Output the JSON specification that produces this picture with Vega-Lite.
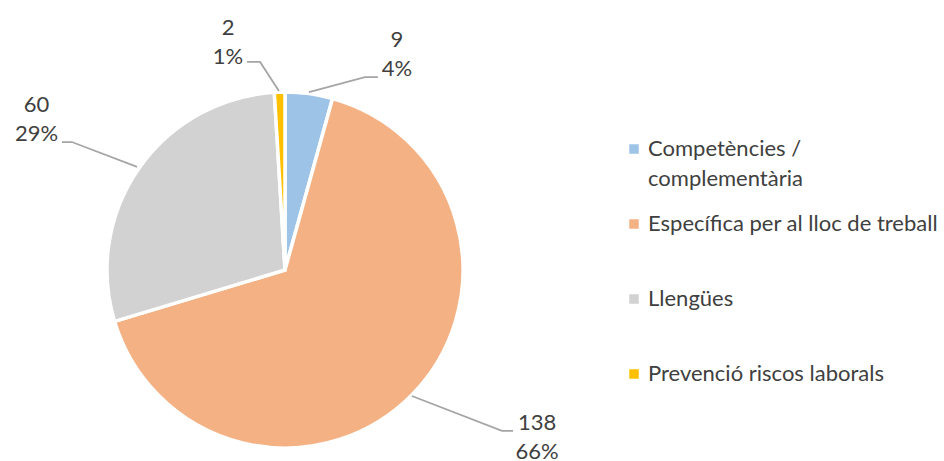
{
  "$schema": "https://vega.github.io/schema/vega-lite/v6.json",
  "width": 944,
  "height": 461,
  "padding": 0,
  "autosize": {"type": "none"},
  "background": "white",
  "config": {"view": {"stroke": null}, "font": "Lato", "style": {"guide-label": {"lineHeight": 30}}},
  "datasets": {
    "slices": [
      {"category": "Competències / complementària", "value": 9, "order": 1},
      {"category": "Específica per al lloc de treball", "value": 138, "order": 2},
      {"category": "Llengües", "value": 60, "order": 3},
      {"category": "Prevenció riscos laborals", "value": 2, "order": 4}
    ],
    "labels": [
      {"category": "Competències / complementària", "value": "9", "pct": "4%", "u": 0.629, "v": 1.208},
      {"category": "Específica per al lloc de treball", "value": "138", "pct": "66%", "u": 1.416, "v": -0.94},
      {"category": "Llengües", "value": "60", "pct": "29%", "u": -1.396, "v": 0.843},
      {"category": "Prevenció riscos laborals", "value": "2", "pct": "1%", "u": -0.32, "v": 1.278}
    ],
    "leaders": [
      {"category": "Competències / complementària", "seq": 1, "u": 0.135, "v": 1.0},
      {"category": "Competències / complementària", "seq": 2, "u": 0.449, "v": 1.084},
      {"category": "Competències / complementària", "seq": 3, "u": 0.522, "v": 1.084},
      {"category": "Prevenció riscos laborals", "seq": 1, "u": -0.213, "v": 1.169},
      {"category": "Prevenció riscos laborals", "seq": 2, "u": -0.14, "v": 1.169},
      {"category": "Prevenció riscos laborals", "seq": 3, "u": -0.034, "v": 1.006},
      {"category": "Llengües", "seq": 1, "u": -1.253, "v": 0.719},
      {"category": "Llengües", "seq": 2, "u": -1.197, "v": 0.719},
      {"category": "Llengües", "seq": 3, "u": -0.831, "v": 0.579},
      {"category": "Específica per al lloc de treball", "seq": 1, "u": 0.713, "v": -0.708},
      {"category": "Específica per al lloc de treball", "seq": 2, "u": 1.219, "v": -0.904},
      {"category": "Específica per al lloc de treball", "seq": 3, "u": 1.281, "v": -0.904}
    ]
  },
  "layer": [
    {
      "data": {"name": "slices"},
      "mark": {"type": "arc", "outerRadius": 178, "stroke": "white", "strokeWidth": 3.5},
      "encoding": {
        "theta": {"field": "value", "type": "quantitative", "stack": true},
        "order": {"field": "order", "type": "quantitative"},
        "x": {"datum": 0, "type": "quantitative", "scale": {"domain": [-1.6011, 3.7022], "nice": false, "zero": false}, "axis": null},
        "y": {"datum": 0, "type": "quantitative", "scale": {"domain": [-1.073, 1.5169], "nice": false, "zero": false}, "axis": null},
        "color": {
          "field": "category",
          "type": "nominal",
          "scale": {
            "domain": ["Competències / complementària", "Específica per al lloc de treball", "Llengües", "Prevenció riscos laborals"],
            "range": ["#9DC3E6", "#F4B183", "#D2D2D2", "#FFC000"]
          },
          "legend": {
            "orient": "none",
            "legendX": 623,
            "legendY": 138,
            "title": null,
            "symbolType": "square",
            "symbolSize": 90,
            "symbolStrokeWidth": 0,
            "labelFont": "Lato",
            "labelFontSize": 22,
            "labelColor": "#404040",
            "labelOffset": 3,
            "labelLimit": 400,
            "rowPadding": 23,
            "labelExpr": "datum.label == 'Competències / complementària' ? ['Competències /', 'complementària'] : [datum.label, ' ']"
          }
        }
      }
    },
    {
      "data": {"name": "leaders"},
      "mark": {"type": "line", "color": "#A5A5A5", "strokeWidth": 1.8},
      "encoding": {
        "x": {"field": "u", "type": "quantitative"},
        "y": {"field": "v", "type": "quantitative"},
        "detail": {"field": "category"},
        "order": {"field": "seq", "type": "quantitative"}
      }
    },
    {
      "data": {"name": "labels"},
      "mark": {"type": "text", "fontSize": 22, "color": "#404040", "dy": -14.5, "baseline": "middle", "align": "center"},
      "encoding": {
        "x": {"field": "u", "type": "quantitative"},
        "y": {"field": "v", "type": "quantitative"},
        "text": {"field": "value"}
      }
    },
    {
      "data": {"name": "labels"},
      "mark": {"type": "text", "fontSize": 22, "color": "#404040", "dy": 14.5, "baseline": "middle", "align": "center"},
      "encoding": {
        "x": {"field": "u", "type": "quantitative"},
        "y": {"field": "v", "type": "quantitative"},
        "text": {"field": "pct"}
      }
    }
  ]
}
